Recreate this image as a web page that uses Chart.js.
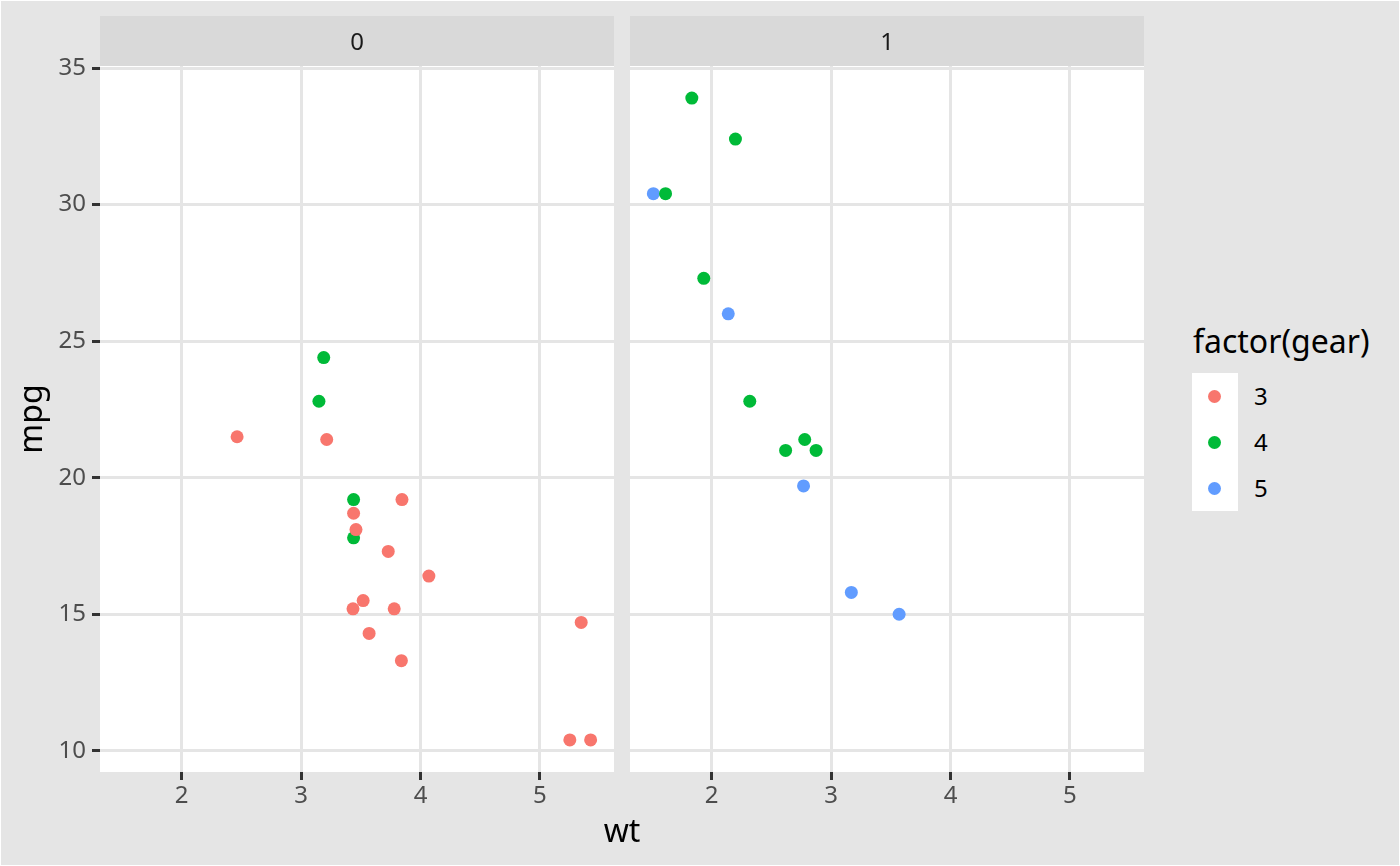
<!DOCTYPE html>
<html>
<head>
<meta charset="utf-8">
<script src="https://cdn.jsdelivr.net/npm/chart.js@4.4.1/dist/chart.umd.min.js"></script>
<style>
  body { margin: 0; background: #fff; }
  #plot {
    position: relative; width: 1400px; height: 866px; overflow: hidden;
    background: #E5E5E5; box-shadow: inset 0 0 0 1px #fff;
    font-family: 'Noto Sans', sans-serif; color: #000;
  }
  #plot canvas { position: absolute; top: 0; }
  #xtitle { position: absolute; left: 100px; width: 1044px; top: 814px; text-align: center; font-size: 32px; line-height: 32px; }
  #legend-title { position: absolute; left: 1193px; top: 325px; font-size: 32px; line-height: 32px; white-space: nowrap; }
  #legend-keys { position: absolute; left: 1192px; top: 373px; width: 46px; background: #fff; }
  .key { position: relative; height: 46px; }
  .key .dot { position: absolute; left: 16px; top: 17px; width: 13px; height: 13px; border-radius: 50%; }
  .key .lab { position: absolute; left: 62px; top: 0; font-size: 24px; line-height: 46px; }
</style>
</head>
<body>
<div id="plot">
  <canvas id="panel0" width="614" height="866" style="left:0px;width:614px;height:866px"></canvas>
  <canvas id="panel1" width="514" height="866" style="left:630px;width:514px;height:866px"></canvas>
  <div id="xtitle">wt</div>
  <div id="legend-title">factor(gear)</div>
  <div id="legend-keys"></div>
</div>
<script>
const FACETS = ["0", "1"];
const GEARS = ["3", "4", "5"];
const COLORS = ["#F8766D", "#00BA38", "#619CFF"];
const X_TICKS = [2, 3, 4, 5];
const Y_TICKS = [10, 15, 20, 25, 30, 35];

// am = 0
const wt0 = [3.215, 3.440, 3.460, 3.570, 3.190, 3.150, 3.440, 3.440, 4.070, 3.730, 3.780, 5.250, 5.424, 5.345, 2.465, 3.520, 3.435, 3.840, 3.845];
const mpg0 = [21.4, 18.7, 18.1, 14.3, 24.4, 22.8, 19.2, 17.8, 16.4, 17.3, 15.2, 10.4, 10.4, 14.7, 21.5, 15.5, 15.2, 13.3, 19.2];
const gear0 = [3, 3, 3, 3, 4, 4, 4, 4, 3, 3, 3, 3, 3, 3, 3, 3, 3, 3, 3];

// am = 1
const wt1 = [2.620, 2.875, 2.320, 2.200, 1.615, 1.835, 1.935, 2.140, 1.513, 3.170, 2.770, 3.570, 2.780];
const mpg1 = [21.0, 21.0, 22.8, 32.4, 30.4, 33.9, 27.3, 26.0, 30.4, 15.8, 19.7, 15.0, 21.4];
const gear1 = [4, 4, 4, 4, 4, 4, 4, 5, 5, 5, 5, 5, 4];

// shared scale limits (data range + 5% each side)
const X_MIN = 1.3175, X_MAX = 5.6196;
const Y_MIN = 9.225, Y_MAX = 35.075;

Chart.defaults.font.family = "'Noto Sans', sans-serif";

// white panel + grey strip with facet label
const stripPlugin = {
  id: "strip",
  beforeDraw(chart, args, opts) {
    const { ctx, chartArea: a } = chart;
    ctx.save();
    ctx.fillStyle = "#FFFFFF";
    ctx.fillRect(a.left, a.top, a.right - a.left, a.bottom - a.top);
    ctx.fillStyle = "#D9D9D9";
    ctx.fillRect(a.left, 16, a.right - a.left, a.top - 16);
    ctx.fillStyle = "#1A1A1A";
    ctx.font = "24px 'Noto Sans'";
    ctx.textAlign = "center";
    ctx.textBaseline = "alphabetic";
    ctx.fillText(opts.text, (a.left + a.right) / 2, 50);
    ctx.restore();
  }
};

function makePanel(id, facet, wt, mpg, gear, withY) {
  const datasets = GEARS.map((g, k) => ({
    label: g,
    data: wt.map((x, i) => ({ x: x, y: mpg[i], g: gear[i] })).filter(p => String(p.g) === g),
    backgroundColor: COLORS[k],
    pointRadius: 6.5,
    pointBorderWidth: 0,
    pointHoverRadius: 6.5
  }));

  return new Chart(document.getElementById(id), {
    type: "scatter",
    data: { datasets },
    plugins: [stripPlugin],
    options: {
      responsive: false,
      animation: false,
      events: [],
      layout: { padding: { top: 66, right: 0, bottom: 0, left: 0 }, autoPadding: false },
      plugins: {
        legend: { display: false },
        tooltip: { enabled: false },
        strip: { text: facet }
      },
      scales: {
        x: {
          type: "linear",
          min: X_MIN, max: X_MAX,
          afterBuildTicks: s => { s.ticks = X_TICKS.map(v => ({ value: v })); },
          afterFit: s => { s.height = 94; },
          border: { display: false },
          grid: { color: "#E5E5E5", lineWidth: 3, drawTicks: true, tickLength: 8, tickColor: "#333333", tickWidth: 3 },
          ticks: { color: "#4D4D4D", font: { size: 24 }, padding: 2, maxRotation: 0, autoSkip: false }
        },
        y: {
          type: "linear",
          min: Y_MIN, max: Y_MAX,
          afterBuildTicks: s => { s.ticks = Y_TICKS.map(v => ({ value: v })); },
          afterFit: s => { s.width = withY ? 100 : 0; },
          border: { display: false },
          grid: { color: "#E5E5E5", lineWidth: 3, drawTicks: withY, tickLength: 8, tickColor: "#333333", tickWidth: 3 },
          ticks: { display: withY, color: "#4D4D4D", font: { size: 24 }, padding: 6, autoSkip: false },
          title: { display: withY, text: "mpg", color: "#000000", font: { size: 32 }, padding: { top: 14, bottom: 0 } }
        }
      }
    }
  });
}

makePanel("panel0", FACETS[0], wt0, mpg0, gear0, true);
makePanel("panel1", FACETS[1], wt1, mpg1, gear1, false);

// legend keys
const keys = document.getElementById("legend-keys");
GEARS.forEach((g, k) => {
  const row = document.createElement("div");
  row.className = "key";
  row.innerHTML = `<div class="dot" style="background:${COLORS[k]}"></div><div class="lab">${g}</div>`;
  keys.appendChild(row);
});
</script>
</body>
</html>
